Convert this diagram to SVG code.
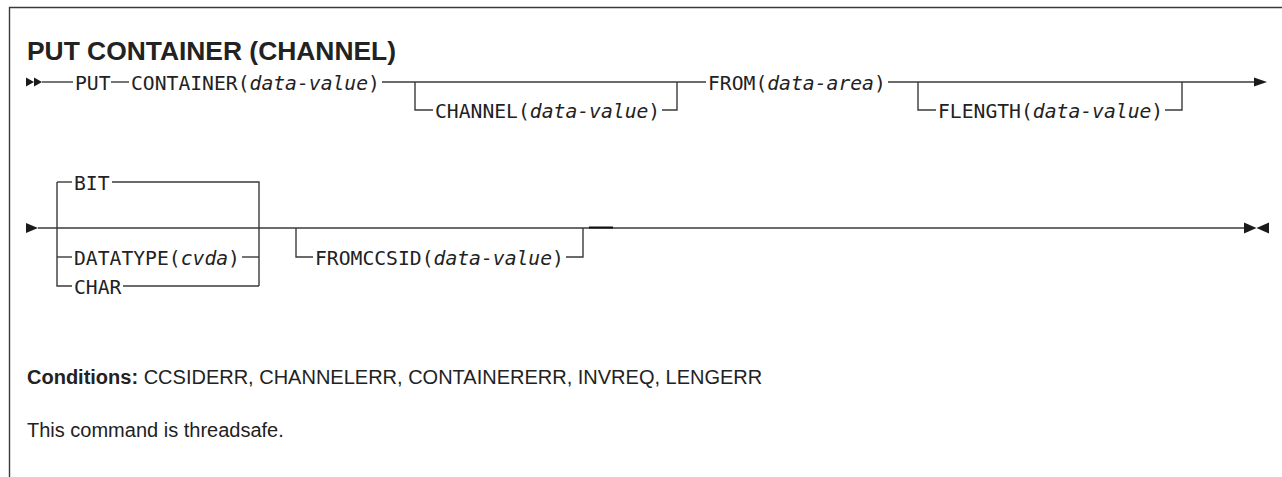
<svg xmlns="http://www.w3.org/2000/svg" width="1282" height="477" viewBox="0 0 1282 477">
<style>
.ln{fill:none;stroke:#3a3a3a;stroke-width:1.4}
.ar{fill:#1a1a1a;stroke:none}
.sy{font-family:"DejaVu Sans Mono","Liberation Mono",monospace;font-size:19.7px;fill:#222}
.it{font-style:italic}
.ti{font-family:"Liberation Sans",Arial,sans-serif;font-size:26.4px;font-weight:bold;fill:#222}
.tx{font-family:"Liberation Sans",Arial,sans-serif;font-size:20px;fill:#222}
.b{font-weight:bold}
</style>
<rect width="1282" height="477" fill="#fff"/>
<path class="ln" d="M9.5 477 V7.5 H1282" stroke="#555"/>
<g id="title"><text class="ti" x="27" y="60">PUT CONTAINER (CHANNEL)</text></g>
<g id="connectors">
<polygon class="ar" points="26,77.5 34,82 26,86.5"/>
<polygon class="ar" points="34,77.5 42,82 34,86.5"/>
<path class="ln" d="M42 82 H73"/>
<path class="ln" d="M111 82 H129"/>
<path class="ln" d="M382 82 H706"/>
<path class="ln" d="M415 82 V110 H433"/>
<path class="ln" d="M662 110 H677 V82"/>
<path class="ln" d="M888 82 H1255"/>
<path class="ln" d="M918 82 V110 H936"/>
<path class="ln" d="M1165 110 H1182 V82"/>
<polygon class="ar" points="1254,77.5 1267,82 1254,86.5"/>
<polygon class="ar" points="26,223 38,228 26,233"/>
<path class="ln" d="M38 228 H1245"/>
<path class="ln" d="M57 182 V286 H72"/>
<path class="ln" d="M57 182 H72"/>
<path class="ln" d="M112 182 H259 V286"/>
<path class="ln" d="M57 257 H72"/>
<path class="ln" d="M242 257 H259"/>
<path class="ln" d="M123 286 H259"/>
<path class="ln" d="M296 228 V257 H313"/>
<path class="ln" d="M566 257 H583 V228"/>
<path d="M589 227.5 H613" stroke="#111" stroke-width="2"/>
<polygon class="ar" points="1244,222.5 1256.5,228 1244,233.5"/>
<polygon class="ar" points="1269,222.5 1256.5,228 1269,233.5"/>
</g>
<g id="put"><text class="sy" x="75" y="89.5">PUT</text></g>
<g id="container"><text class="sy" x="131" y="89.5">CONTAINER(<tspan class="it">data-value</tspan>)</text></g>
<g id="channel"><text class="sy" x="435" y="117.5">CHANNEL(<tspan class="it">data-value</tspan>)</text></g>
<g id="from"><text class="sy" x="708" y="89.5">FROM(<tspan class="it">data-area</tspan>)</text></g>
<g id="flength"><text class="sy" x="938" y="117.5">FLENGTH(<tspan class="it">data-value</tspan>)</text></g>
<g id="bit"><text class="sy" x="74" y="189.5">BIT</text></g>
<g id="datatype"><text class="sy" x="74" y="264.5">DATATYPE(<tspan class="it">cvda</tspan>)</text></g>
<g id="char"><text class="sy" x="74" y="293.5">CHAR</text></g>
<g id="fromccsid"><text class="sy" x="315" y="264.5">FROMCCSID(<tspan class="it">data-value</tspan>)</text></g>
<g id="conditions"><text class="tx" x="27" y="383.5"><tspan class="b">Conditions:</tspan> CCSIDERR, CHANNELERR, CONTAINERERR, INVREQ, LENGERR</text></g>
<g id="note"><text class="tx" x="27" y="437">This command is threadsafe.</text></g>
</svg>
